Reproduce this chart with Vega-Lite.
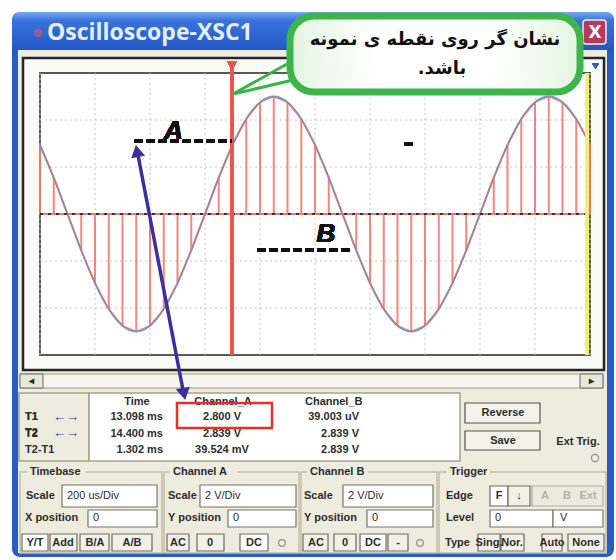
{
"$schema": "https://vega.github.io/schema/vega-lite/v6.json",
"width": 616, "height": 560, "autosize": "none", "padding": 0, "background": "#ffffff",
"config": {"view": {"stroke": null}, "axis": {"disable": true}, "legend": {"disable": true},
  "text": {"font": "Liberation Sans", "fontSize": 11, "fontWeight": "bold", "color": "#2d2d2d", "baseline": "middle", "align": "left"}},
"datasets": {
  "wave": [
    {"t": 12.40, "v": 2.939}, {"t": 12.45, "v": 1.545}, {"t": 12.50, "v": 0}, {"t": 12.55, "v": -1.545}, {"t": 12.60, "v": -2.939},
    {"t": 12.65, "v": -4.045}, {"t": 12.70, "v": -4.755}, {"t": 12.75, "v": -5}, {"t": 12.80, "v": -4.755}, {"t": 12.85, "v": -4.045},
    {"t": 12.90, "v": -2.939}, {"t": 12.95, "v": -1.545}, {"t": 13.00, "v": 0}, {"t": 13.05, "v": 1.545}, {"t": 13.10, "v": 2.939},
    {"t": 13.15, "v": 4.045}, {"t": 13.20, "v": 4.755}, {"t": 13.25, "v": 5}, {"t": 13.30, "v": 4.755}, {"t": 13.35, "v": 4.045},
    {"t": 13.40, "v": 2.939}, {"t": 13.45, "v": 1.545}, {"t": 13.50, "v": 0}, {"t": 13.55, "v": -1.545}, {"t": 13.60, "v": -2.939},
    {"t": 13.65, "v": -4.045}, {"t": 13.70, "v": -4.755}, {"t": 13.75, "v": -5}, {"t": 13.80, "v": -4.755}, {"t": 13.85, "v": -4.045},
    {"t": 13.90, "v": -2.939}, {"t": 13.95, "v": -1.545}, {"t": 14.00, "v": 0}, {"t": 14.05, "v": 1.545}, {"t": 14.10, "v": 2.939},
    {"t": 14.15, "v": 4.045}, {"t": 14.20, "v": 4.755}, {"t": 14.25, "v": 5}, {"t": 14.30, "v": 4.755}, {"t": 14.35, "v": 4.045},
    {"t": 14.40, "v": 2.939}
  ],
  "gridT": [{"t": 12.4}, {"t": 12.6}, {"t": 12.8}, {"t": 13.0}, {"t": 13.2}, {"t": 13.4}, {"t": 13.6}, {"t": 13.8}, {"t": 14.0}, {"t": 14.2}, {"t": 14.4}],
  "gridV": [{"v": -4}, {"v": -2}, {"v": 2}, {"v": 4}],
  "readings": [
    {"cursor": "T1", "Time": "13.098 ms", "Channel_A": "2.800 V", "Channel_B": "39.003 uV"},
    {"cursor": "T2", "Time": "14.400 ms", "Channel_A": "2.839 V", "Channel_B": "2.839 V"},
    {"cursor": "T2-T1", "Time": "1.302 ms", "Channel_A": "39.524 mV", "Channel_B": "2.839 V"}
  ]
},
"layer": [
 {"data": {"values": [{}]},
  "layer": [
   {"mark": {"type": "rect", "color": "#2a5bc4", "cornerRadius": 8}, "encoding": {"x": {"datum": 12, "scale": {"domain": [0, 616], "nice": false, "zero": false}}, "x2": {"datum": 614}, "y": {"datum": 12, "scale": {"domain": [0, 560], "nice": false, "zero": false, "reverse": true}}, "y2": {"datum": 557}}},
   {"mark": {"type": "rect", "cornerRadiusTopLeft": 8, "cornerRadiusTopRight": 8, "fill": {"gradient": "linear", "x1": 0, "y1": 0, "x2": 0, "y2": 1, "stops": [{"offset": 0, "color": "#7aaaf0"}, {"offset": 0.22, "color": "#3a72dc"}, {"offset": 1, "color": "#2157c6"}]}}, "encoding": {"x": {"datum": 12}, "x2": {"datum": 614}, "y": {"datum": 12}, "y2": {"datum": 51}}},
   {"mark": {"type": "rect", "color": "#eeebdf"}, "encoding": {"x": {"datum": 18}, "x2": {"datum": 607}, "y": {"datum": 50}, "y2": {"datum": 553}}},
   {"mark": {"type": "rect", "fill": "#fafaf6", "stroke": "#262626", "strokeWidth": 2.5}, "encoding": {"x": {"datum": 23}, "x2": {"datum": 604}, "y": {"datum": 58}, "y2": {"datum": 370}}},
   {"mark": {"type": "rect", "fill": "#ffffff", "stroke": "#5a5a5a", "strokeWidth": 2}, "encoding": {"x": {"datum": 40}, "x2": {"datum": 590}, "y": {"datum": 73}, "y2": {"datum": 355}}},
   {"mark": {"type": "rect", "fill": "#f7f5ee", "stroke": "#a09c8a", "strokeWidth": 1}, "encoding": {"x": {"datum": 20}, "x2": {"datum": 603}, "y": {"datum": 374}, "y2": {"datum": 388}}},
   {"mark": {"type": "rect", "fill": "#e9e6da", "stroke": "#6d6a60", "strokeWidth": 1}, "encoding": {"x": {"datum": 20}, "x2": {"datum": 43}, "y": {"datum": 374}, "y2": {"datum": 388}}},
   {"mark": {"type": "rect", "fill": "#e9e6da", "stroke": "#6d6a60", "strokeWidth": 1}, "encoding": {"x": {"datum": 580}, "x2": {"datum": 603}, "y": {"datum": 374}, "y2": {"datum": 388}}},
   {"mark": {"type": "rect", "fill": "#eeebdf", "stroke": "#a6a28e", "strokeWidth": 1.5}, "encoding": {"x": {"datum": 19}, "x2": {"datum": 89}, "y": {"datum": 393}, "y2": {"datum": 461}}},
   {"mark": {"type": "rect", "fill": "#ffffff", "stroke": "#a6a28e", "strokeWidth": 1.5}, "encoding": {"x": {"datum": 89}, "x2": {"datum": 460}, "y": {"datum": 393}, "y2": {"datum": 461}}},
   {"mark": {"type": "rect", "fill": "#f4f2ea", "stroke": "#55554d", "strokeWidth": 1.2}, "encoding": {"x": {"datum": 465}, "x2": {"datum": 540}, "y": {"datum": 403}, "y2": {"datum": 423}}},
   {"mark": {"type": "rect", "fill": "#f4f2ea", "stroke": "#55554d", "strokeWidth": 1.2}, "encoding": {"x": {"datum": 465}, "x2": {"datum": 540}, "y": {"datum": 431}, "y2": {"datum": 450}}},
   {"mark": {"type": "rect", "filled": false, "stroke": "#c3bea6", "strokeWidth": 1.5}, "encoding": {"x": {"datum": 20}, "x2": {"datum": 162}, "y": {"datum": 472}, "y2": {"datum": 553}}},
   {"mark": {"type": "rect", "filled": false, "stroke": "#c3bea6", "strokeWidth": 1.5}, "encoding": {"x": {"datum": 164}, "x2": {"datum": 299}, "y": {"datum": 472}, "y2": {"datum": 553}}},
   {"mark": {"type": "rect", "filled": false, "stroke": "#c3bea6", "strokeWidth": 1.5}, "encoding": {"x": {"datum": 301}, "x2": {"datum": 437}, "y": {"datum": 472}, "y2": {"datum": 553}}},
   {"mark": {"type": "rect", "filled": false, "stroke": "#c3bea6", "strokeWidth": 1.5}, "encoding": {"x": {"datum": 439}, "x2": {"datum": 606}, "y": {"datum": 472}, "y2": {"datum": 553}}},
   {"mark": {"type": "rect", "color": "#eeebdf"}, "encoding": {"x": {"datum": 27}, "x2": {"datum": 86}, "y": {"datum": 465}, "y2": {"datum": 479}}},
   {"mark": {"type": "rect", "color": "#eeebdf"}, "encoding": {"x": {"datum": 170}, "x2": {"datum": 237}, "y": {"datum": 465}, "y2": {"datum": 479}}},
   {"mark": {"type": "rect", "color": "#eeebdf"}, "encoding": {"x": {"datum": 307}, "x2": {"datum": 368}, "y": {"datum": 465}, "y2": {"datum": 479}}},
   {"mark": {"type": "rect", "color": "#eeebdf"}, "encoding": {"x": {"datum": 447}, "x2": {"datum": 490}, "y": {"datum": 465}, "y2": {"datum": 479}}},
   {"mark": {"type": "rect", "fill": "#ffffff", "stroke": "#77776f", "strokeWidth": 1.2}, "encoding": {"x": {"datum": 62}, "x2": {"datum": 157}, "y": {"datum": 485}, "y2": {"datum": 507}}},
   {"mark": {"type": "rect", "fill": "#ffffff", "stroke": "#77776f", "strokeWidth": 1.2}, "encoding": {"x": {"datum": 88}, "x2": {"datum": 157}, "y": {"datum": 510}, "y2": {"datum": 527}}},
   {"mark": {"type": "rect", "fill": "#ffffff", "stroke": "#77776f", "strokeWidth": 1.2}, "encoding": {"x": {"datum": 200}, "x2": {"datum": 296}, "y": {"datum": 485}, "y2": {"datum": 507}}},
   {"mark": {"type": "rect", "fill": "#ffffff", "stroke": "#77776f", "strokeWidth": 1.2}, "encoding": {"x": {"datum": 228}, "x2": {"datum": 296}, "y": {"datum": 510}, "y2": {"datum": 527}}},
   {"mark": {"type": "rect", "fill": "#ffffff", "stroke": "#77776f", "strokeWidth": 1.2}, "encoding": {"x": {"datum": 343}, "x2": {"datum": 433}, "y": {"datum": 485}, "y2": {"datum": 507}}},
   {"mark": {"type": "rect", "fill": "#ffffff", "stroke": "#77776f", "strokeWidth": 1.2}, "encoding": {"x": {"datum": 367}, "x2": {"datum": 433}, "y": {"datum": 510}, "y2": {"datum": 527}}},
   {"mark": {"type": "rect", "fill": "#ffffff", "stroke": "#77776f", "strokeWidth": 1.2}, "encoding": {"x": {"datum": 490}, "x2": {"datum": 553}, "y": {"datum": 510}, "y2": {"datum": 527}}},
   {"mark": {"type": "rect", "fill": "#ffffff", "stroke": "#77776f", "strokeWidth": 1.2}, "encoding": {"x": {"datum": 553}, "x2": {"datum": 603}, "y": {"datum": 510}, "y2": {"datum": 527}}},
   {"mark": {"type": "rect", "fill": "#ffffff", "stroke": "#6e6c62", "strokeWidth": 1.2}, "encoding": {"x": {"datum": 22}, "x2": {"datum": 48}, "y": {"datum": 534}, "y2": {"datum": 551}}},
   {"mark": {"type": "rect", "fill": "#f3f1e7", "stroke": "#6e6c62", "strokeWidth": 1.2}, "encoding": {"x": {"datum": 50}, "x2": {"datum": 77}, "y": {"datum": 534}, "y2": {"datum": 551}}},
   {"mark": {"type": "rect", "fill": "#f3f1e7", "stroke": "#6e6c62", "strokeWidth": 1.2}, "encoding": {"x": {"datum": 80}, "x2": {"datum": 109}, "y": {"datum": 534}, "y2": {"datum": 551}}},
   {"mark": {"type": "rect", "fill": "#f3f1e7", "stroke": "#6e6c62", "strokeWidth": 1.2}, "encoding": {"x": {"datum": 112}, "x2": {"datum": 152}, "y": {"datum": 534}, "y2": {"datum": 551}}},
   {"mark": {"type": "rect", "fill": "#f3f1e7", "stroke": "#6e6c62", "strokeWidth": 1.2}, "encoding": {"x": {"datum": 167}, "x2": {"datum": 189}, "y": {"datum": 534}, "y2": {"datum": 551}}},
   {"mark": {"type": "rect", "fill": "#f3f1e7", "stroke": "#6e6c62", "strokeWidth": 1.2}, "encoding": {"x": {"datum": 197}, "x2": {"datum": 224}, "y": {"datum": 534}, "y2": {"datum": 551}}},
   {"mark": {"type": "rect", "fill": "#ffffff", "stroke": "#6e6c62", "strokeWidth": 1.2}, "encoding": {"x": {"datum": 240}, "x2": {"datum": 268}, "y": {"datum": 534}, "y2": {"datum": 551}}},
   {"mark": {"type": "rect", "fill": "#f3f1e7", "stroke": "#6e6c62", "strokeWidth": 1.2}, "encoding": {"x": {"datum": 303}, "x2": {"datum": 328}, "y": {"datum": 534}, "y2": {"datum": 551}}},
   {"mark": {"type": "rect", "fill": "#f3f1e7", "stroke": "#6e6c62", "strokeWidth": 1.2}, "encoding": {"x": {"datum": 334}, "x2": {"datum": 356}, "y": {"datum": 534}, "y2": {"datum": 551}}},
   {"mark": {"type": "rect", "fill": "#ffffff", "stroke": "#6e6c62", "strokeWidth": 1.2}, "encoding": {"x": {"datum": 360}, "x2": {"datum": 386}, "y": {"datum": 534}, "y2": {"datum": 551}}},
   {"mark": {"type": "rect", "fill": "#f3f1e7", "stroke": "#6e6c62", "strokeWidth": 1.2}, "encoding": {"x": {"datum": 388}, "x2": {"datum": 408}, "y": {"datum": 534}, "y2": {"datum": 551}}},
   {"mark": {"type": "rect", "fill": "#f3f1e7", "stroke": "#6e6c62", "strokeWidth": 1.2}, "encoding": {"x": {"datum": 478}, "x2": {"datum": 500}, "y": {"datum": 534}, "y2": {"datum": 551}}},
   {"mark": {"type": "rect", "fill": "#f3f1e7", "stroke": "#6e6c62", "strokeWidth": 1.2}, "encoding": {"x": {"datum": 501}, "x2": {"datum": 524}, "y": {"datum": 534}, "y2": {"datum": 551}}},
   {"mark": {"type": "rect", "fill": "#f3f1e7", "stroke": "#6e6c62", "strokeWidth": 1.2}, "encoding": {"x": {"datum": 542}, "x2": {"datum": 562}, "y": {"datum": 534}, "y2": {"datum": 551}}},
   {"mark": {"type": "rect", "fill": "#f3f1e7", "stroke": "#6e6c62", "strokeWidth": 1.2}, "encoding": {"x": {"datum": 568}, "x2": {"datum": 604}, "y": {"datum": 534}, "y2": {"datum": 551}}},
   {"mark": {"type": "rect", "fill": "#ffffff", "stroke": "#6e6c62", "strokeWidth": 1.2}, "encoding": {"x": {"datum": 490}, "x2": {"datum": 508}, "y": {"datum": 486}, "y2": {"datum": 506}}},
   {"mark": {"type": "rect", "fill": "#f3f1e7", "stroke": "#6e6c62", "strokeWidth": 1.2}, "encoding": {"x": {"datum": 508}, "x2": {"datum": 530}, "y": {"datum": 486}, "y2": {"datum": 506}}},
   {"mark": {"type": "rect", "fill": "#ece9de", "stroke": "#b0ad9f", "strokeWidth": 1.2}, "encoding": {"x": {"datum": 532}, "x2": {"datum": 603}, "y": {"datum": 486}, "y2": {"datum": 506}}},
   {"mark": {"type": "point", "shape": "circle", "filled": true, "color": "#c85a78", "size": 70}, "encoding": {"x": {"datum": 38}, "y": {"datum": 33}}},
   {"mark": {"type": "text", "text": "Oscilloscope-XSC1", "font": "Open Sans", "fontSize": 23, "fontWeight": "bold", "color": "#e4f0ff"}, "encoding": {"x": {"datum": 47}, "y": {"datum": 33}}},
   {"mark": {"type": "text", "text": "◂", "align": "center", "fontSize": 10}, "encoding": {"x": {"datum": 31}, "y": {"datum": 381}}},
   {"mark": {"type": "text", "text": "▸", "align": "center", "fontSize": 10}, "encoding": {"x": {"datum": 591}, "y": {"datum": 381}}},
   {"mark": {"type": "text", "text": "T1"}, "encoding": {"x": {"datum": 25}, "y": {"datum": 417}}},
   {"mark": {"type": "text", "text": "T2"}, "encoding": {"x": {"datum": 25}, "y": {"datum": 433}}},
   {"mark": {"type": "text", "text": "←→", "align": "center", "fontSize": 13, "color": "#1d3d8f"}, "encoding": {"x": {"datum": 66}, "y": {"datum": 417}}},
   {"mark": {"type": "text", "text": "←→", "align": "center", "fontSize": 13, "color": "#1d3d8f"}, "encoding": {"x": {"datum": 66}, "y": {"datum": 433}}},
   {"mark": {"type": "text", "text": "Time", "align": "center"}, "encoding": {"x": {"datum": 137}, "y": {"datum": 402}}},
   {"mark": {"type": "text", "text": "Channel_A", "align": "center"}, "encoding": {"x": {"datum": 223}, "y": {"datum": 402}}},
   {"mark": {"type": "text", "text": "Channel_B"}, "encoding": {"x": {"datum": 305}, "y": {"datum": 402}}},
   {"mark": {"type": "text", "text": "Reverse", "align": "center"}, "encoding": {"x": {"datum": 503}, "y": {"datum": 413}}},
   {"mark": {"type": "text", "text": "Save", "align": "center"}, "encoding": {"x": {"datum": 503}, "y": {"datum": 441}}},
   {"mark": {"type": "text", "text": "Ext Trig.", "align": "center"}, "encoding": {"x": {"datum": 578}, "y": {"datum": 442}}},
   {"mark": {"type": "point", "shape": "circle", "filled": false, "color": "#6a6a6a", "size": 50, "strokeWidth": 1.2}, "encoding": {"x": {"datum": 595}, "y": {"datum": 458}}},
   {"mark": {"type": "text", "text": "Timebase"}, "encoding": {"x": {"datum": 30}, "y": {"datum": 472}}},
   {"mark": {"type": "text", "text": "Channel A"}, "encoding": {"x": {"datum": 173}, "y": {"datum": 472}}},
   {"mark": {"type": "text", "text": "Channel B"}, "encoding": {"x": {"datum": 310}, "y": {"datum": 472}}},
   {"mark": {"type": "text", "text": "Trigger"}, "encoding": {"x": {"datum": 450}, "y": {"datum": 472}}},
   {"mark": {"type": "text", "text": "Scale"}, "encoding": {"x": {"datum": 26}, "y": {"datum": 496}}},
   {"mark": {"type": "text", "text": "200 us/Div", "fontWeight": "normal"}, "encoding": {"x": {"datum": 67}, "y": {"datum": 496}}},
   {"mark": {"type": "text", "text": "X position"}, "encoding": {"x": {"datum": 25}, "y": {"datum": 518}}},
   {"mark": {"type": "text", "text": "0", "fontWeight": "normal"}, "encoding": {"x": {"datum": 93}, "y": {"datum": 518}}},
   {"mark": {"type": "text", "text": "Y/T", "align": "center"}, "encoding": {"x": {"datum": 35}, "y": {"datum": 543}}},
   {"mark": {"type": "text", "text": "Add", "align": "center"}, "encoding": {"x": {"datum": 63}, "y": {"datum": 543}}},
   {"mark": {"type": "text", "text": "B/A", "align": "center"}, "encoding": {"x": {"datum": 95}, "y": {"datum": 543}}},
   {"mark": {"type": "text", "text": "A/B", "align": "center"}, "encoding": {"x": {"datum": 132}, "y": {"datum": 543}}},
   {"mark": {"type": "text", "text": "Scale"}, "encoding": {"x": {"datum": 168}, "y": {"datum": 496}}},
   {"mark": {"type": "text", "text": "2  V/Div", "fontWeight": "normal"}, "encoding": {"x": {"datum": 205}, "y": {"datum": 496}}},
   {"mark": {"type": "text", "text": "Y position"}, "encoding": {"x": {"datum": 168}, "y": {"datum": 518}}},
   {"mark": {"type": "text", "text": "0", "fontWeight": "normal"}, "encoding": {"x": {"datum": 233}, "y": {"datum": 518}}},
   {"mark": {"type": "text", "text": "AC", "align": "center"}, "encoding": {"x": {"datum": 178}, "y": {"datum": 543}}},
   {"mark": {"type": "text", "text": "0", "align": "center"}, "encoding": {"x": {"datum": 210}, "y": {"datum": 543}}},
   {"mark": {"type": "text", "text": "DC", "align": "center"}, "encoding": {"x": {"datum": 254}, "y": {"datum": 543}}},
   {"mark": {"type": "point", "shape": "circle", "filled": false, "color": "#6a6a6a", "size": 45, "strokeWidth": 1.2}, "encoding": {"x": {"datum": 282}, "y": {"datum": 543}}},
   {"mark": {"type": "text", "text": "Scale"}, "encoding": {"x": {"datum": 304}, "y": {"datum": 496}}},
   {"mark": {"type": "text", "text": "2  V/Div", "fontWeight": "normal"}, "encoding": {"x": {"datum": 348}, "y": {"datum": 496}}},
   {"mark": {"type": "text", "text": "Y position"}, "encoding": {"x": {"datum": 304}, "y": {"datum": 518}}},
   {"mark": {"type": "text", "text": "0", "fontWeight": "normal"}, "encoding": {"x": {"datum": 372}, "y": {"datum": 518}}},
   {"mark": {"type": "text", "text": "AC", "align": "center"}, "encoding": {"x": {"datum": 316}, "y": {"datum": 543}}},
   {"mark": {"type": "text", "text": "0", "align": "center"}, "encoding": {"x": {"datum": 345}, "y": {"datum": 543}}},
   {"mark": {"type": "text", "text": "DC", "align": "center"}, "encoding": {"x": {"datum": 373}, "y": {"datum": 543}}},
   {"mark": {"type": "text", "text": "-", "align": "center"}, "encoding": {"x": {"datum": 398}, "y": {"datum": 543}}},
   {"mark": {"type": "point", "shape": "circle", "filled": false, "color": "#6a6a6a", "size": 45, "strokeWidth": 1.2}, "encoding": {"x": {"datum": 420}, "y": {"datum": 543}}},
   {"mark": {"type": "text", "text": "Edge"}, "encoding": {"x": {"datum": 446}, "y": {"datum": 496}}},
   {"mark": {"type": "text", "text": "F", "align": "center"}, "encoding": {"x": {"datum": 499}, "y": {"datum": 496}}},
   {"mark": {"type": "text", "text": "↓", "align": "center"}, "encoding": {"x": {"datum": 519}, "y": {"datum": 496}}},
   {"mark": {"type": "text", "text": "A", "align": "center", "color": "#b5b2a5"}, "encoding": {"x": {"datum": 545}, "y": {"datum": 496}}},
   {"mark": {"type": "text", "text": "B", "align": "center", "color": "#b5b2a5"}, "encoding": {"x": {"datum": 567}, "y": {"datum": 496}}},
   {"mark": {"type": "text", "text": "Ext", "align": "center", "color": "#b5b2a5"}, "encoding": {"x": {"datum": 588}, "y": {"datum": 496}}},
   {"mark": {"type": "text", "text": "Level"}, "encoding": {"x": {"datum": 446}, "y": {"datum": 518}}},
   {"mark": {"type": "text", "text": "0", "fontWeight": "normal"}, "encoding": {"x": {"datum": 495}, "y": {"datum": 518}}},
   {"mark": {"type": "text", "text": "V", "fontWeight": "normal"}, "encoding": {"x": {"datum": 560}, "y": {"datum": 518}}},
   {"mark": {"type": "text", "text": "Type"}, "encoding": {"x": {"datum": 445}, "y": {"datum": 543}}},
   {"mark": {"type": "text", "text": "Sing.", "align": "center"}, "encoding": {"x": {"datum": 489}, "y": {"datum": 543}}},
   {"mark": {"type": "text", "text": "Nor.", "align": "center"}, "encoding": {"x": {"datum": 512}, "y": {"datum": 543}}},
   {"mark": {"type": "text", "text": "Auto", "align": "center"}, "encoding": {"x": {"datum": 552}, "y": {"datum": 543}}},
   {"mark": {"type": "text", "text": "None", "align": "center"}, "encoding": {"x": {"datum": 586}, "y": {"datum": 543}}}
  ]
 },
 {"data": {"name": "wave"},
  "layer": [
   {"data": {"name": "gridT"}, "mark": {"type": "rule", "color": "#c4c4c4", "strokeDash": [2, 3], "strokeWidth": 1}, "encoding": {"x": {"field": "t", "type": "quantitative", "scale": {"domain": [12.4, 14.4], "range": [40, 590], "nice": false, "zero": false}}, "y": {"datum": -6, "scale": {"domain": [-6, 6], "range": [355, 73], "nice": false, "zero": false}}, "y2": {"datum": 6}}},
   {"data": {"name": "gridV"}, "mark": {"type": "rule", "color": "#c4c4c4", "strokeDash": [2, 3], "strokeWidth": 1}, "encoding": {"y": {"field": "v", "type": "quantitative"}, "x": {"datum": 12.4}, "x2": {"datum": 14.4}}},
   {"mark": {"type": "rule", "color": "#e8776c", "strokeWidth": 1.5}, "encoding": {"y": {"datum": 0}, "x": {"datum": 12.4}, "x2": {"datum": 14.4}}},
   {"mark": {"type": "rule", "color": "#ef7a6e", "strokeWidth": 2, "opacity": 0.9}, "encoding": {"x": {"field": "t", "type": "quantitative"}, "y": {"field": "v", "type": "quantitative"}, "y2": {"datum": 0}}},
   {"mark": {"type": "line", "color": "#5aa9dc", "strokeWidth": 2, "interpolate": "monotone"}, "encoding": {"x": {"field": "t", "type": "quantitative"}, "y": {"field": "v", "type": "quantitative"}}},
   {"mark": {"type": "line", "color": "#e8675d", "strokeWidth": 1.5, "opacity": 0.75}, "encoding": {"x": {"field": "t", "type": "quantitative"}, "y": {"field": "v", "type": "quantitative"}}},
   {"mark": {"type": "rule", "color": "#333333", "strokeWidth": 1.8, "strokeDash": [3, 5]}, "encoding": {"y": {"datum": 0}, "x": {"datum": 12.4}, "x2": {"datum": 14.4}}},
   {"mark": {"type": "rule", "color": "#f3ee7a", "strokeWidth": 3}, "encoding": {"x": {"datum": 14.39}, "y": {"datum": -6}, "y2": {"datum": 6}}},
   {"mark": {"type": "rule", "color": "#e9574c", "strokeWidth": 2.5}, "encoding": {"x": {"datum": 13.098}, "y": {"datum": -6}, "y2": {"datum": 6.4}}},
   {"mark": {"type": "point", "shape": "triangle-down", "filled": true, "color": "#e9574c", "size": 90, "opacity": 1}, "encoding": {"x": {"datum": 13.098}, "y": {"datum": 6.3}}},
   {"mark": {"type": "point", "shape": "triangle-down", "filled": true, "color": "#2f5fc8", "size": 45, "opacity": 1}, "encoding": {"x": {"datum": 14.42}, "y": {"datum": 6.3}}},
   {"mark": {"type": "rule", "color": "#111111", "strokeWidth": 3, "strokeDash": [8, 4]}, "encoding": {"x": {"datum": 12.745}, "x2": {"datum": 13.098}, "y": {"datum": 3.1}}},
   {"mark": {"type": "text", "text": "A", "font": "Liberation Sans", "fontSize": 26, "fontWeight": "bold", "fontStyle": "italic", "color": "#111111", "align": "center", "baseline": "middle"}, "encoding": {"x": {"datum": 12.885}, "y": {"datum": 3.55}}},
   {"mark": {"type": "rule", "color": "#111111", "strokeWidth": 3, "strokeDash": [8, 4]}, "encoding": {"x": {"datum": 13.19}, "x2": {"datum": 13.535}, "y": {"datum": -1.53}}},
   {"mark": {"type": "text", "text": "B", "font": "Liberation Sans", "fontSize": 26, "fontWeight": "bold", "fontStyle": "italic", "color": "#111111", "align": "center", "baseline": "middle"}, "encoding": {"x": {"datum": 13.44}, "y": {"datum": -0.85}}},
   {"mark": {"type": "rule", "color": "#111111", "strokeWidth": 3}, "encoding": {"x": {"datum": 13.727}, "x2": {"datum": 13.756}, "y": {"datum": 2.98}}}
  ]
 },
 {"data": {"name": "readings"},
  "layer": [
   {"mark": {"type": "text"}, "encoding": {"x": {"datum": 25, "scale": {"domain": [0, 616], "nice": false, "zero": false}}, "y": {"field": "cursor", "type": "ordinal", "scale": {"type": "point", "domain": ["T1", "T2", "T2-T1"], "range": [417, 450], "padding": 0}}, "text": {"field": "cursor"}}},
   {"mark": {"type": "text", "align": "right"}, "encoding": {"x": {"datum": 163}, "y": {"field": "cursor", "type": "ordinal"}, "text": {"field": "Time"}}},
   {"mark": {"type": "text", "align": "center"}, "encoding": {"x": {"datum": 222}, "y": {"field": "cursor", "type": "ordinal"}, "text": {"field": "Channel_A"}}},
   {"mark": {"type": "text", "align": "right"}, "encoding": {"x": {"datum": 359}, "y": {"field": "cursor", "type": "ordinal"}, "text": {"field": "Channel_B"}}}
  ]
 },
 {"data": {"values": [{}]},
  "layer": [
   {"mark": {"type": "rect", "color": "#b73a5c", "cornerRadius": 3, "stroke": "#f0f0f0", "strokeWidth": 1.5}, "encoding": {"x": {"datum": 583, "scale": {"domain": [0, 616], "nice": false, "zero": false}}, "x2": {"datum": 606}, "y": {"datum": 20, "scale": {"domain": [0, 560], "nice": false, "zero": false, "reverse": true}}, "y2": {"datum": 44}}},
   {"mark": {"type": "text", "text": "X", "align": "center", "fontSize": 17, "color": "#ffffff", "font": "DejaVu Sans"}, "encoding": {"x": {"datum": 595}, "y": {"datum": 33}}},
   {"mark": {"type": "rule", "color": "#35b548", "strokeWidth": 3}, "encoding": {"x": {"datum": 233}, "y": {"datum": 94}, "x2": {"datum": 298}, "y2": {"datum": 58}}},
   {"mark": {"type": "rule", "color": "#35b548", "strokeWidth": 3}, "encoding": {"x": {"datum": 233}, "y": {"datum": 94}, "x2": {"datum": 302}, "y2": {"datum": 78}}},
   {"mark": {"type": "rect", "cornerRadius": 24, "stroke": "#3db54a", "strokeWidth": 7, "fill": {"gradient": "radial", "x1": 0.5, "y1": 0.5, "r1": 0.2, "x2": 0.5, "y2": 0.5, "r2": 0.75, "stops": [{"offset": 0, "color": "#ffffff"}, {"offset": 1, "color": "#cdeec8"}]}}, "encoding": {"x": {"datum": 290}, "x2": {"datum": 580}, "y": {"datum": 16}, "y2": {"datum": 92}}},
   {"mark": {"type": "text", "text": "نشان گر روی نقطه ی نمونه", "align": "center", "font": "DejaVu Sans", "fontSize": 18, "fontWeight": "bold", "color": "#111111"}, "encoding": {"x": {"datum": 435}, "y": {"datum": 40}}},
   {"mark": {"type": "text", "text": "\u200fباشد.\u200f", "align": "center", "font": "DejaVu Sans", "fontSize": 18, "fontWeight": "bold", "color": "#111111"}, "encoding": {"x": {"datum": 442}, "y": {"datum": 69}}},
   {"mark": {"type": "rect", "filled": false, "stroke": "#e2332a", "strokeWidth": 2.5}, "encoding": {"x": {"datum": 177}, "x2": {"datum": 272}, "y": {"datum": 403}, "y2": {"datum": 428}}},
   {"mark": {"type": "rule", "color": "#3b2f9e", "strokeWidth": 3.5}, "encoding": {"x": {"datum": 138}, "y": {"datum": 155}, "x2": {"datum": 183}, "y2": {"datum": 390}}},
   {"mark": {"type": "point", "shape": "triangle-up", "filled": true, "color": "#3b2f9e", "size": 200, "opacity": 1, "angle": -10.9}, "encoding": {"x": {"datum": 137}, "y": {"datum": 151}}},
   {"mark": {"type": "point", "shape": "triangle-down", "filled": true, "color": "#3b2f9e", "size": 200, "opacity": 1, "angle": -10.9}, "encoding": {"x": {"datum": 184}, "y": {"datum": 394}}}
  ]
 }
],
"resolve": {"scale": {"x": "independent", "y": "independent"}}
}
